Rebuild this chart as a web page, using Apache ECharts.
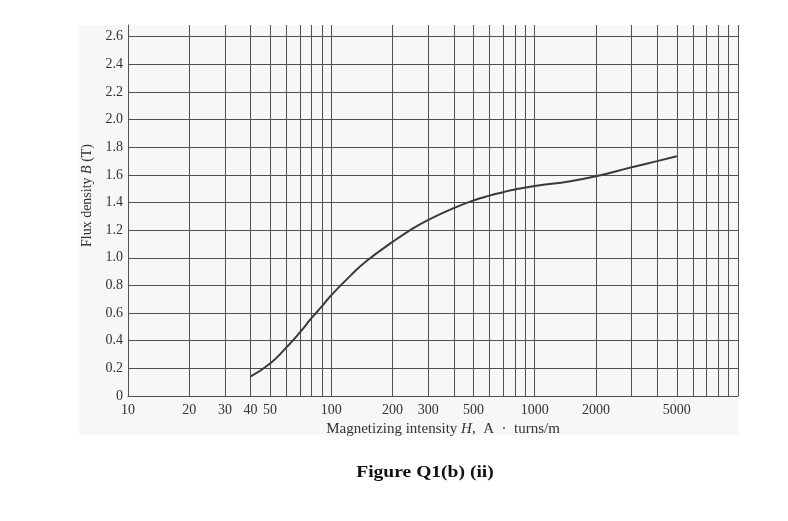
<!DOCTYPE html>
<html>
<head>
<meta charset="utf-8">
<script src="https://cdn.jsdelivr.net/npm/echarts@6/dist/echarts.min.js"></script>
<style>html,body{margin:0;padding:0;background:#fff;}#c{width:788px;height:521px;}</style>
</head>
<body>
<div id="c"></div>
<script>
// Magnetizing intensity H (A·turns/m)
const hValues = [40, 50, 60, 70, 80, 90, 100, 125, 150, 200, 250, 300, 400, 500, 600, 700, 800, 1000, 1500, 2000, 3000, 4000, 5000];
// Flux density B (T)
const bValues = [0.14, 0.235, 0.35, 0.46, 0.565, 0.65, 0.73, 0.875, 0.98, 1.115, 1.21, 1.275, 1.36, 1.415, 1.45, 1.475, 1.495, 1.52, 1.555, 1.59, 1.655, 1.70, 1.735];
// x grid lines (log paper)
const xGridValues = [10,20,30,40,50,60,70,80,90,100,200,300,400,500,600,700,800,900,1000,2000,3000,4000,5000,6000,7000,8000,9000,10000];
// x tick labels
const xLabelValues = [10, 20, 30, 40, 50, 100, 200, 300, 500, 1000, 2000, 5000];
// y tick labels
const yLabelValues = [0, 0.2, 0.4, 0.6, 0.8, 1.0, 1.2, 1.4, 1.6, 1.8, 2.0, 2.2, 2.4, 2.6];

const chart = echarts.init(document.getElementById('c'), null, {renderer: 'canvas'});
const serif = '"Liberation Serif", "DejaVu Serif", serif';
const gridColor = '#505050';
chart.setOption({
  animation: false,
  backgroundColor: '#ffffff',
  graphic: [{
    type: 'rect', left: 79, top: 25, z: -10, silent: true,
    shape: {width: 659, height: 410},
    style: {fill: '#f8f7f6'}
  }, {
    type: 'text', x: 425, y: 473, scaleX: 1.15,
    style: {text: 'Figure Q1(b) (ii)', font: 'bold 17px ' + serif, fill: '#111', align: 'center', verticalAlign: 'middle'}
  }],
  grid: {left: 128, right: 50, top: 25, bottom: 125, containLabel: false},
  xAxis: {
    type: 'log', logBase: 10, min: 10, max: 10000,
    axisLine: {show: true, lineStyle: {color: gridColor, width: 1}},
    axisTick: {show: false, customValues: xGridValues},
    axisLabel: {customValues: xLabelValues, margin: 7, color: '#333', fontFamily: serif, fontSize: 14,
      formatter: v => String(v)},
    splitLine: {show: true, lineStyle: {color: gridColor, width: 1}},
    minorTick: {show: false}, minorSplitLine: {show: false},
    name: '{n|Magnetizing intensity }{i|H}{n|,  A  ·  turns/m}',
    nameLocation: 'middle', nameGap: 25,
    nameTextStyle: {
      padding: [0, 0, 0, 20],
      rich: {
        n: {fontFamily: serif, fontSize: 15, color: '#333'},
        i: {fontFamily: serif, fontSize: 15, color: '#333', fontStyle: 'italic'}
      }
    }
  },
  yAxis: {
    type: 'value', min: 0, max: 2.685,
    axisLine: {show: true, lineStyle: {color: gridColor, width: 1}},
    axisTick: {show: false, customValues: yLabelValues},
    axisLabel: {customValues: yLabelValues, margin: 5, color: '#333', fontFamily: serif, fontSize: 14,
      formatter: v => (v === 0 ? '0' : v.toFixed(1))},
    splitLine: {show: true, lineStyle: {color: gridColor, width: 1}},
    name: '{n|Flux density }{i|B}{n| (T)}',
    nameLocation: 'middle', nameGap: 31,
    nameTextStyle: {
      padding: [0, 0, 0, 30],
      rich: {
        n: {fontFamily: serif, fontSize: 14, color: '#333'},
        i: {fontFamily: serif, fontSize: 14, color: '#333', fontStyle: 'italic'}
      }
    }
  },
  series: [{
    type: 'line',
    data: hValues.map((h, i) => [h, bValues[i]]),
    smooth: 0.5,
    showSymbol: false,
    lineStyle: {color: '#3a3a3a', width: 2},
    z: 5
  }]
});
</script>
</body>
</html>
